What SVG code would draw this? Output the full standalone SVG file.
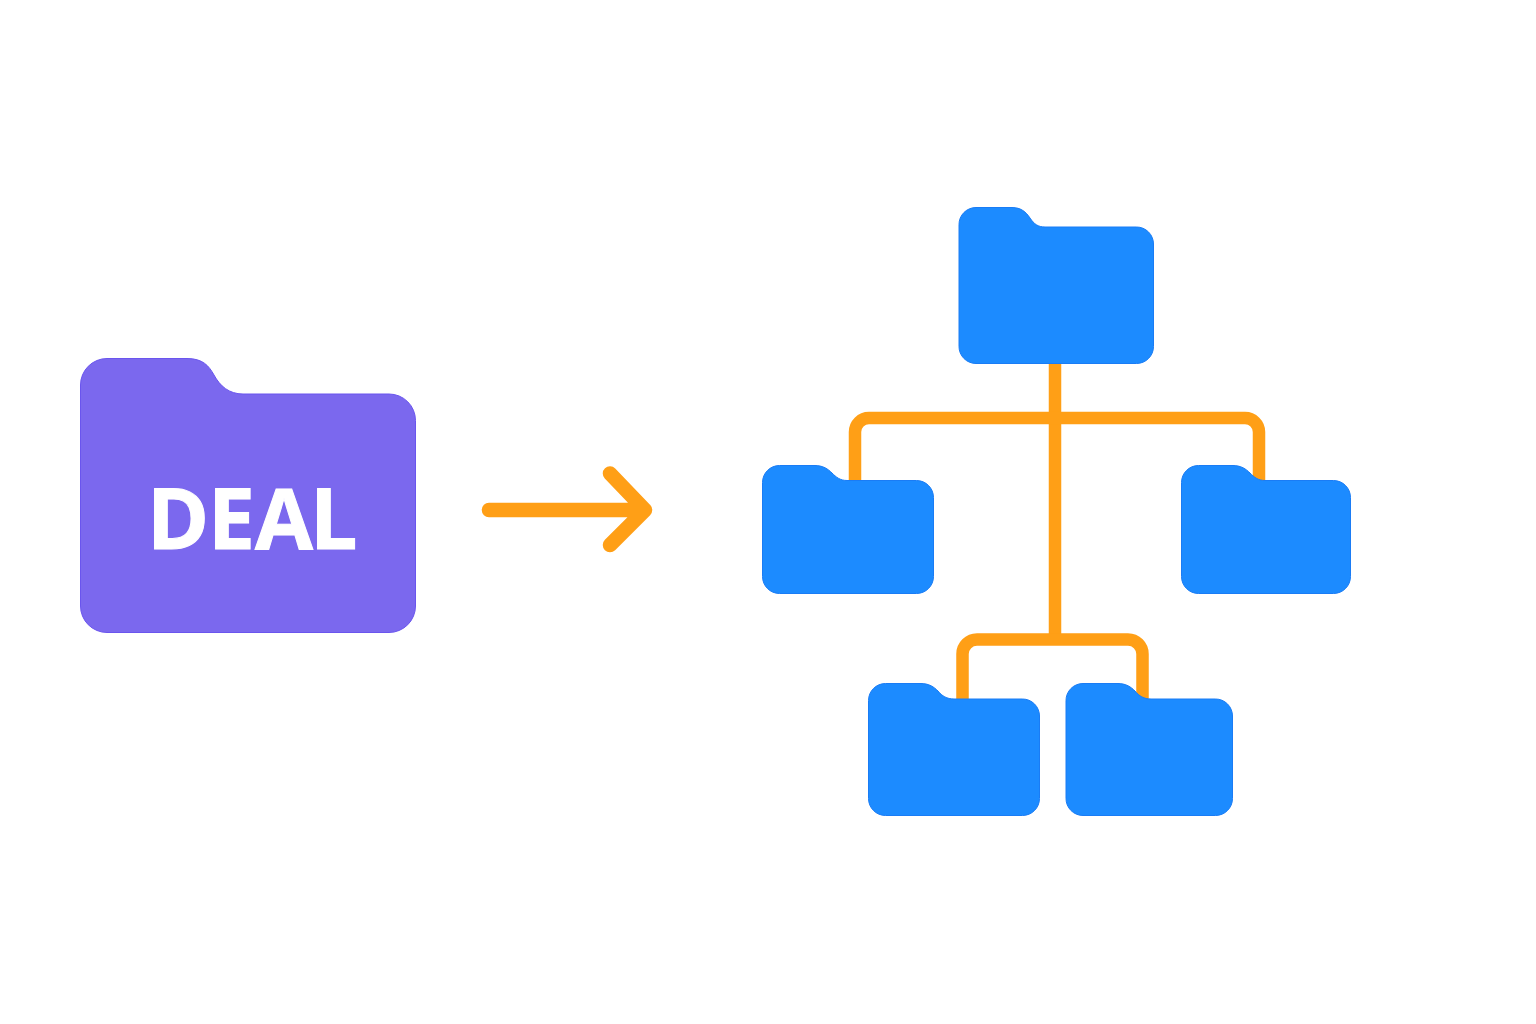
<svg xmlns="http://www.w3.org/2000/svg" width="1536" height="1024" viewBox="0 0 1536 1024">
<style>
.blue{fill:#1c8bff;stroke:#1a7cf5;stroke-width:1}
.purple{fill:#7b68ee;stroke:#6a55ee;stroke-width:1}
.conn{fill:none;stroke:#ff9f16;stroke-width:12.5;stroke-linejoin:round}
.arrow{fill:none;stroke:#ff9f16;stroke-width:14.500;stroke-linecap:round;stroke-linejoin:round}
.label{font-family:"Open Sans","Noto Sans",sans-serif;font-weight:700;font-size:84px;fill:#fff;stroke:#fff;stroke-width:1}
</style>
<rect width="1536" height="1024" fill="#fff"/>
<g id="connectors">
<path class="conn" d="M1055 360V636"/>
<path class="conn" d="M855 484V432A14 14 0 0 1 869 418H1245A14 14 0 0 1 1259 432V484"/>
<path class="conn" d="M962.500 703V654A14.500 14.500 0 0 1 977 639.500H1128A14.500 14.500 0 0 1 1142.500 654V703"/>
</g>
<g id="arrow">
<path class="arrow" d="M489 510H645M610 473.500L645 510L610 545"/>
</g>
<g id="deal-folder">
<path class="purple" d="M80.500 385A26.500 26.500 0 0 1 107 358.500H187C203 358.500 209 366 214 375C220 386 229 394 243 394H389A26.500 26.500 0 0 1 415.500 420.500V606A26.500 26.500 0 0 1 389 632.500H107A26.500 26.500 0 0 1 80.500 606Z"/>
<text class="label" x="147 208 255 310" y="549">DEAL</text>
</g>
<g id="folder-top">
<path class="blue" d="M959 224.500A17 17 0 0 1 976 207.500H1012C1021 207.500 1026 212 1030 218C1034 224 1038 227 1045 227H1136.500A17 17 0 0 1 1153.500 244V346.500A17 17 0 0 1 1136.500 363.500H976A17 17 0 0 1 959 346.500Z"/>
</g>
<g id="folder-left">
<path class="blue" d="M762.500 482.500A17 17 0 0 1 779.500 465.500H815C823 465.500 828 469 832 473C836 477 840 480.500 847 480.500H916.500A17 17 0 0 1 933.500 497.500V576.500A17 17 0 0 1 916.500 593.500H779.500A17 17 0 0 1 762.500 576.500Z"/>
</g>
<g id="folder-right">
<path class="blue" d="M1181.500 482.500A17 17 0 0 1 1198.500 465.500H1233C1241 465.500 1246 469 1250 473C1254 477 1258 480.500 1265 480.500H1333.500A17 17 0 0 1 1350.500 497.500V576.500A17 17 0 0 1 1333.500 593.500H1198.500A17 17 0 0 1 1181.500 576.500Z"/>
</g>
<g id="folder-bottom-left">
<path class="blue" d="M868.500 700.500A17 17 0 0 1 885.500 683.500H921C929 683.500 934 687 938 691C942 696 947 699 954 699H1022.500A17 17 0 0 1 1039.500 716V798.500A17 17 0 0 1 1022.500 815.500H885.500A17 17 0 0 1 868.500 798.500Z"/>
</g>
<g id="folder-bottom-right">
<path class="blue" d="M1066 700.500A17 17 0 0 1 1083 683.500H1118C1126 683.500 1131 687 1135 691C1139 696 1144 699 1151 699H1215.500A17 17 0 0 1 1232.500 716V798.500A17 17 0 0 1 1215.500 815.500H1083A17 17 0 0 1 1066 798.500Z"/>
</g>
</svg>
